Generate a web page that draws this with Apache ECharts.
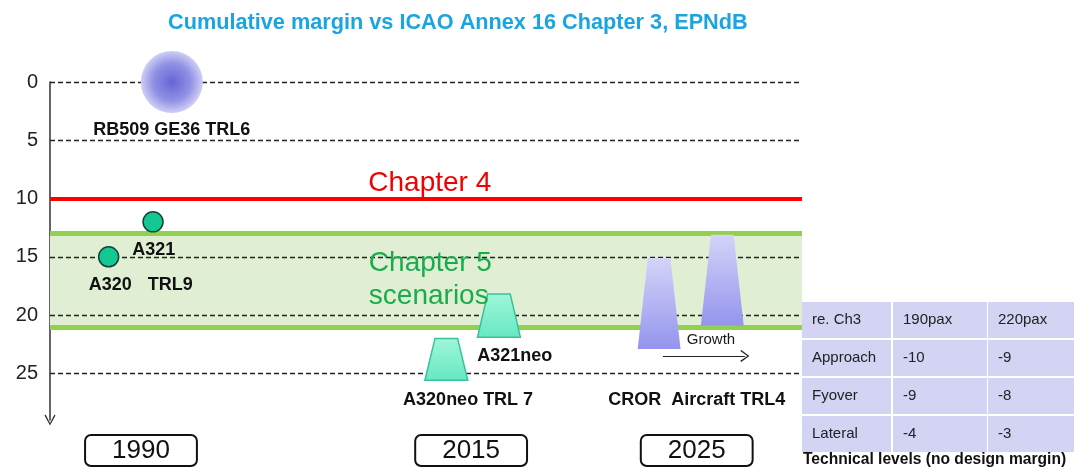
<!DOCTYPE html>
<html>
<head>
<meta charset="utf-8">
<title>Cumulative margin vs ICAO Annex 16 Chapter 3</title>
<script src="https://cdn.jsdelivr.net/npm/echarts@6/dist/echarts.min.js"></script>
<style>
  html, body { margin: 0; padding: 0; background: #fff; }
  #chart { width: 1074px; height: 474px; }
</style>
</head>
<body>
<div id="chart"></div>
<script>
// -- data -------------------------------------------------------------
var yTicks = [0, 5, 10, 15, 20, 25];
var eraPos = [12.1, 56, 86];
var eraYears = ['1990', '2015', '2025'];
var chapter4 = 10;
var chapter5Band = [13, 21];
var openRotor = [[16.2, 0]];
var engines = [[13.7, 12, 'A321'], [7.8, 15, 'A320']];
// [centre, top margin, bottom margin]
var neoShapes = [[59.7, 18.2, 21.9], [52.7, 22.0, 25.6]];
var crorShapes = [[81.0, 15.1, 22.9], [89.4, 13.1, 20.9]];
var boldLabels = [
  [16.2, 4.1, 'RB509 GE36 TRL6'],
  [13.8, 14.4, 'A321'],
  [8.0, 17.4, 'A320'],
  [16.0, 17.4, 'TRL9'],
  [61.8, 23.5, 'A321neo'],
  [55.6, 27.3, 'A320neo TRL 7'],
  [86.0, 27.3, 'CROR  Aircraft TRL4']
];
var growth = [[81.5, 23.5], [92.4, 23.5]];
var tableHeader = ['re. Ch3', '190pax', '220pax'];
var tableRows = [['Approach', '-10', '-9'], ['Fyover', '-9', '-8'], ['Lateral', '-4', '-3']];
var tableCaption = 'Technical levels (no design margin)';

var FONT = 'Liberation Sans, Arial, sans-serif';
var chevron = 'path://M5,0 L10,9 L9,10 L5,2.2 L1,10 L0,9 Z';

function trapezoid(fillTop, fillBottom, stroke) {
  return function (params, api) {
    var cx = api.value(0), top = api.value(1), bot = api.value(2);
    var pts = [
      api.coord([cx - 1.5, top]), api.coord([cx + 1.5, top]),
      api.coord([cx + 2.85, bot]), api.coord([cx - 2.85, bot])
    ];
    return {
      type: 'polygon',
      shape: { points: pts },
      style: {
        fill: new echarts.graphic.LinearGradient(0, 0, 0, 1, [
          { offset: 0, color: fillTop }, { offset: 1, color: fillBottom }
        ]),
        stroke: stroke,
        lineWidth: stroke ? 1.5 : 0
      }
    };
  };
}

// table drawn as graphic elements
var colX = [802, 893, 988], colW = [89, 94, 86];
var table = [];
[tableHeader].concat(tableRows).forEach(function (row, r) {
  row.forEach(function (cell, c) {
    table.push({
      type: 'rect', left: colX[c], top: 302 + r * 38,
      shape: { width: colW[c], height: 36 },
      style: { fill: '#d3d3f3' }
    });
    table.push({
      type: 'text', left: colX[c] + 10, top: 302 + r * 38 + 10,
      style: { text: cell, fontSize: 15, fontFamily: FONT, fill: '#222' }
    });
  });
});
table.push({
  type: 'text', left: 803, top: 452,
  style: { text: tableCaption, fontSize: 15.6, fontWeight: 'bold', fontFamily: FONT, fill: '#111' }
});

var chart = echarts.init(document.getElementById('chart'));
chart.setOption({
  animation: false,
  title: {
    text: 'Cumulative margin vs ICAO Annex 16 Chapter 3, EPNdB',
    left: 163, top: 7,
    textStyle: { color: '#1ba5e0', fontSize: 21.7, fontWeight: 'bold', fontFamily: FONT }
  },
  grid: { left: 50, right: 272, top: 82, bottom: 54 },
  xAxis: {
    type: 'value', min: 0, max: 100,
    axisLine: { show: false }, axisTick: { show: false }, splitLine: { show: false },
    axisLabel: {
      customValues: eraPos,
      margin: 15,
      formatter: function (v) { return eraYears[eraPos.indexOf(v)]; },
      fontSize: 26, fontFamily: FONT, color: '#111',
      borderColor: '#111', borderWidth: 2, borderRadius: 6,
      padding: [3, 27, 2, 27]
    }
  },
  yAxis: {
    type: 'value', min: 0, max: 29, inverse: true,
    splitLine: { show: false }, axisTick: { show: false },
    axisLine: {
      show: true, symbol: [chevron, 'none'], symbolSize: [14, 11],
      lineStyle: { color: '#333', width: 1.5 }
    },
    axisLabel: { customValues: yTicks, fontSize: 20, fontFamily: FONT, color: '#222', margin: 12 }
  },
  graphic: table,
  series: [
    {
      type: 'line', data: [], z: 1, silent: true,
      markArea: {
        silent: true, z: 1,
        itemStyle: { color: '#e0efd4' },
        data: [[{ yAxis: chapter5Band[0] }, { yAxis: chapter5Band[1] }]]
      },
      markLine: {
        silent: true, z: 2, symbol: 'none', label: { show: false },
        lineStyle: { color: '#222', width: 1.3, type: [5, 3] },
        data: yTicks.map(function (v) { return { yAxis: v }; })
      }
    },
    {
      type: 'line', data: [], z: 2, silent: true,
      markLine: {
        silent: true, z: 2, symbol: 'none', label: { show: false },
        data: [
          { yAxis: chapter4, lineStyle: { color: '#ff0000', width: 4, type: 'solid' } },
          { yAxis: chapter5Band[0], lineStyle: { color: '#92d050', width: 5, type: 'solid' } },
          { yAxis: chapter5Band[1], lineStyle: { color: '#92d050', width: 5, type: 'solid' } }
        ]
      }
    },
    {
      type: 'custom', z: 3, data: neoShapes,
      renderItem: trapezoid('#a0f6da', '#66e8c2', '#38c29c')
    },
    {
      type: 'custom', z: 3, data: crorShapes,
      renderItem: trapezoid('#d4d4f8', '#9494ee', null)
    },
    {
      type: 'scatter', z: 4, clip: false, data: openRotor, symbolSize: 62,
      itemStyle: {
        opacity: 1,
        color: new echarts.graphic.RadialGradient(0.5, 0.5, 0.5, [
          { offset: 0, color: '#6565d6' }, { offset: 0.6, color: '#9090e5' }, { offset: 1, color: '#cfcff5' }
        ])
      }
    },
    {
      type: 'scatter', z: 4, data: engines, symbolSize: 20,
      itemStyle: { opacity: 1, color: '#14c893', borderColor: '#17443a', borderWidth: 1.5 }
    },
    {
      type: 'scatter', z: 5, clip: false, symbolSize: 0, silent: true,
      itemStyle: { opacity: 1 },
      data: boldLabels,
      label: {
        show: true, position: 'inside',
        formatter: function (p) { return p.value[2]; },
        fontSize: 18, fontWeight: 'bold', fontFamily: FONT, color: '#111'
      }
    },
    {
      type: 'scatter', z: 5, clip: false, symbolSize: 0, silent: true,
      itemStyle: { opacity: 1 },
      data: [
        { value: [50.5, 8.66, 'Chapter 4'], label: { color: '#f00000' } },
        { value: [42.4, 17.0, 'Chapter 5\nscenarios'], label: { color: '#18ac4c', align: 'left', lineHeight: 33 } },
        { value: [87.9, 22.1, 'Growth'], label: { color: '#1a1a1a', fontSize: 15 } }
      ],
      label: {
        show: true, position: 'inside',
        formatter: function (p) { return p.value[2]; },
        fontSize: 28, fontFamily: FONT
      }
    },
    {
      type: 'line', data: [], z: 5, silent: true,
      markLine: {
        silent: true, z: 5, symbol: ['none', chevron], symbolSize: [12, 9], label: { show: false },
        lineStyle: { color: '#222', width: 1.2, type: 'solid' },
        data: [[{ coord: growth[0] }, { coord: growth[1] }]]
      }
    }
  ]
});
</script>
</body>
</html>
